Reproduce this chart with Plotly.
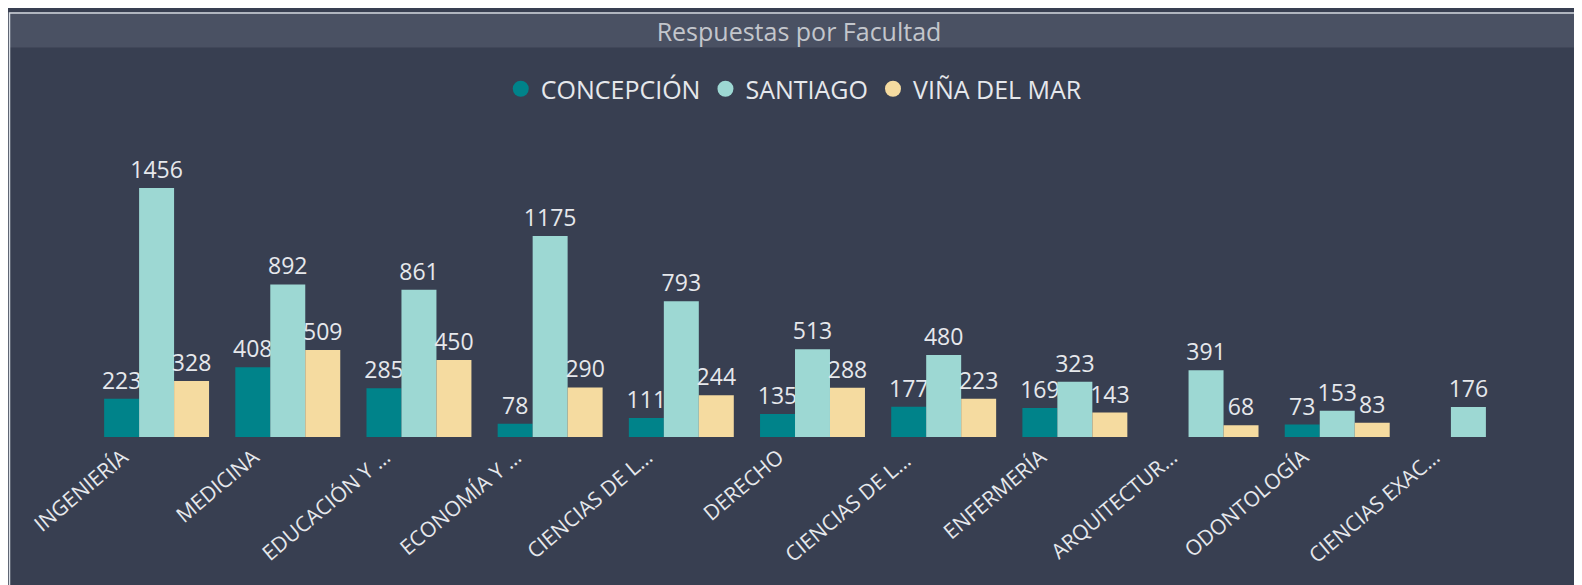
import plotly.graph_objects as go

facultades = ["INGENIERÍA", "MEDICINA", "EDUCACIÓN Y …", "ECONOMÍA Y …", "CIENCIAS DE L…",
              "DERECHO", "CIENCIAS DE L… ", "ENFERMERÍA", "ARQUITECTUR…", "ODONTOLOGÍA",
              "CIENCIAS EXAC…"]
concepcion = [223, 408, 285, 78, 111, 135, 177, 169, None, 73, None]
santiago = [1456, 892, 861, 1175, 793, 513, 480, 323, 391, 153, 176]
vina = [328, 509, 450, 290, 244, 288, 223, 143, 68, 83, None]

series = [("CONCEPCIÓN", concepcion, "#00838a"),
          ("SANTIAGO", santiago, "#9dd8d3"),
          ("VIÑA DEL MAR", vina, "#f5dba0")]

W, H = 1582, 585
L, R, T, B = 83, 56, 122, 156
PW, PH = W - L - R, H - T - B
OFF = 8  # page offset of the plot div (body margin)
BG = "#383f51"
FONT = "Open Sans"
TXT = "#e6e8ec"


def px_x(p):
    return (p - OFF - L) / PW


def px_y(p):
    return (H - B - (p - OFF)) / PH


fig = go.Figure()
for name, vals, color in series:
    fig.add_trace(go.Bar(
        x=facultades, y=vals, name=name, marker=dict(color=color, line_width=0),
        showlegend=False,
        text=[str(v) if v is not None else "" for v in vals], textposition="outside",
        constraintext="none", cliponaxis=False,
        textfont=dict(size=23, color=TXT, family=FONT),
    ))
# legend entries with round markers
for name, vals, color in series:
    fig.add_trace(go.Scatter(
        x=[None], y=[None], mode="markers", name=name,
        marker=dict(symbol="circle", size=20, color=color),
    ))

fig.update_layout(
    width=W, height=H,
    paper_bgcolor=BG, plot_bgcolor=BG,
    margin=dict(l=L, r=R, t=T, b=B),
    barmode="group", bargap=0.2, bargroupgap=0,
    title=dict(text="Respuestas por Facultad", x=0.5, xanchor="center",
               y=1 - 24 / H, yanchor="middle",
               font=dict(size=25, color="#c3c6cc", family=FONT)),
    legend=dict(orientation="h", x=0.497, xanchor="center", xref="container",
                y=1 - 81 / H, yanchor="middle", yref="container",
                font=dict(size=25, color=TXT, family=FONT),
                itemwidth=30, bgcolor="rgba(0,0,0,0)"),
    shapes=[
        dict(type="rect", xref="paper", yref="paper",
             x0=px_x(10), x1=px_x(1580), y0=px_y(47.5), y1=px_y(14),
             fillcolor="#4a5163", line_width=0, layer="below"),
        dict(type="rect", xref="paper", yref="paper",
             x0=px_x(9.5), x1=px_x(1580), y0=px_y(620), y1=px_y(13),
             fillcolor="rgba(0,0,0,0)", line=dict(color="#d8dde4", width=1.5)),
    ],
)
fig.update_xaxes(tickangle=-40, tickfont=dict(size=21, color=TXT, family=FONT),
                 showgrid=False, showline=False, zeroline=False, automargin=False,
                 ticklabelshift=-34, ticklabelstandoff=3)
fig.update_yaxes(visible=False, range=[0, 1795], showgrid=False)

fig.write_html("out.html")
